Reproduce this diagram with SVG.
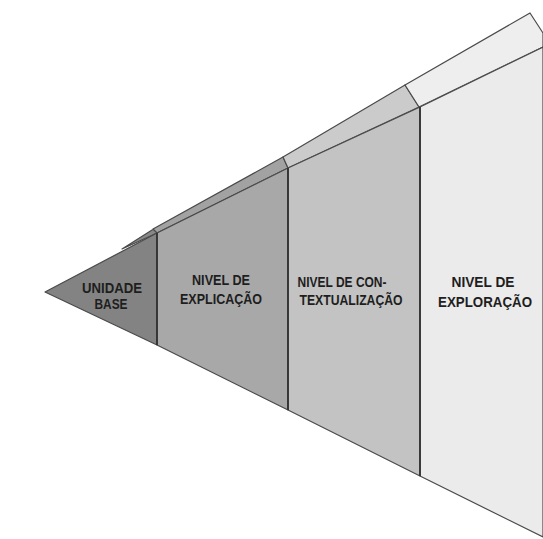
<svg xmlns="http://www.w3.org/2000/svg" width="543" height="539" viewBox="0 0 543 539">
<style>
.edge{stroke:#4a4a4a;stroke-width:1.2;stroke-linejoin:round}
.div{stroke:#333;stroke-width:1.8;fill:none}
.lbl{font-family:"Liberation Sans",Arial,sans-serif;font-size:15px;font-weight:bold;fill:#1e1e1e;text-anchor:middle}
</style>
<rect width="543" height="539" fill="#ffffff"/>
<g id="band1"><polygon class="edge" points="122,249 152,230 158,228 157,233" fill="#888888"/></g>
<g id="band2"><polygon class="edge" points="153,229 283,157 288,168 157,233" fill="#a2a2a2"/></g>
<g id="band3"><polygon class="edge" points="283,157 405,85 419,107 288,168" fill="#cbcbcb"/></g>
<g id="band4"><polygon class="edge" points="405,85 530,13 543,33 543,47 419,107" fill="#eeeeee"/></g>
<g id="unidade-base">
<polygon class="edge" points="45,292 157,233 157,345" fill="#838383"/>
<text class="lbl" x="112" y="293" textLength="60" lengthAdjust="spacingAndGlyphs">UNIDADE</text>
<text class="lbl" x="111" y="309" textLength="33" lengthAdjust="spacingAndGlyphs">BASE</text>
</g>
<g id="nivel-explicacao">
<polygon class="edge" points="157,233 288,168 288,410 157,345" fill="#a8a8a8"/>
<text class="lbl" x="221" y="285" textLength="58" lengthAdjust="spacingAndGlyphs">NIVEL DE</text>
<text class="lbl" x="221" y="304" textLength="82" lengthAdjust="spacingAndGlyphs">EXPLICAÇÃO</text>
</g>
<g id="nivel-contextualizacao">
<polygon class="edge" points="288,168 420,107 420,476 288,410" fill="#c3c3c3"/>
<text class="lbl" x="342" y="287" textLength="89" lengthAdjust="spacingAndGlyphs">NIVEL DE CON-</text>
<text class="lbl" x="351" y="305" textLength="103" lengthAdjust="spacingAndGlyphs">TEXTUALIZAÇÃO</text>
</g>
<g id="nivel-exploracao">
<polygon class="edge" points="420,107 543,47 543,537 420,476" fill="#ebebeb"/>
<text class="lbl" x="483" y="287" textLength="63" lengthAdjust="spacingAndGlyphs">NIVEL DE</text>
<text class="lbl" x="485" y="307" textLength="94" lengthAdjust="spacingAndGlyphs">EXPLORAÇÃO</text>
</g>
<g id="connectors">
<line class="div" x1="157" y1="233" x2="157" y2="345"/>
<line class="div" x1="288" y1="168" x2="288" y2="410"/>
<line class="div" x1="420" y1="107" x2="420" y2="476"/>
</g>
</svg>
